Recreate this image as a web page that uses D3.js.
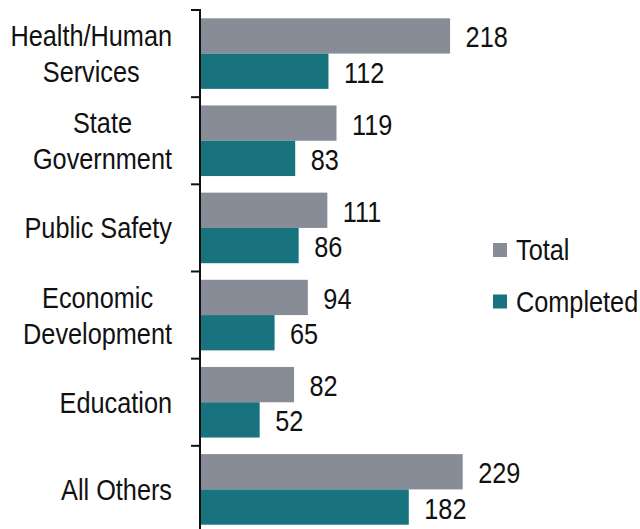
<!DOCTYPE html>
<html><head><meta charset="utf-8">
<script src="https://cdn.jsdelivr.net/npm/d3@7"></script>
<style>body{margin:0;background:#fff}svg{display:block}</style>
</head><body>
<svg id="c" width="640" height="529"></svg>
<script>
const categories = [["Health/Human","Services"],["State","Government"],["Public Safety"],["Economic","Development"],["Education"],["All Others"]];
const totalValues = [218,119,111,94,82,229];
const completedValues = [112,83,86,65,52,182];
const seriesNames = ["Total","Completed"];
const colors = ["#878c96","#18737f"];

const svg = d3.select("#c");
const font = "'Liberation Sans',Arial,sans-serif";
const fs = 29;
const sx = 0.872;
function addText(parent, px, py, str, anchor){
  return parent.append("text").attr("transform",`translate(${px},${py}) scale(${sx},1)`)
    .attr("font-family",font).attr("font-size",fs).attr("fill","#111").attr("dy","0.36em")
    .attr("text-anchor",anchor||"start").text(str);
}
const keys = categories.map(c=>c.join(" "));
const x = d3.scaleLinear().domain([0,229]).range([200,462.7]);
const y0 = d3.scaleBand().domain(keys).range([10,533]).paddingInner(0).paddingOuter(0);
const y1 = d3.scaleBand().domain(seriesNames).range([0,y0.bandwidth()]).paddingInner(0).paddingOuter(0.235);

const data = keys.map((k,i)=>({k, vals:[totalValues[i],completedValues[i]]}));
const g = svg.append("g");
data.forEach(d=>{
  d.vals.forEach((v,j)=>{
    const yy = y0(d.k)+y1(seriesNames[j]);
    g.append("rect").attr("x",x(0)).attr("y",yy).attr("width",x(v)-x(0)).attr("height",y1.bandwidth()).attr("fill",colors[j]);
    addText(g, x(v)+15.5, yy+y1.bandwidth()/2+1, v);
  });
});

// axis
const axG = svg.append("g").attr("transform",`translate(${x(0)},0)`);
keys.forEach(k=>{
  axG.append("line").attr("x1",-9).attr("x2",0).attr("y1",y0(k)).attr("y2",y0(k)).attr("stroke","#111").attr("stroke-width",2);
});
axG.append("line").attr("x1",0).attr("x2",0).attr("y1",y0.range()[0]-1).attr("y2",529).attr("stroke","#111").attr("stroke-width",2);

// category labels
categories.forEach((lines,i)=>{
  const cy = y0(keys[i]) + y0.bandwidth()/2;
  const lg = svg.append("g");
  const ys = lines.map((l,li)=> cy + (li-(lines.length-1)/2)*36);
  const tmp = lines.map(l=>addText(lg,0,0,l,"middle"));
  const w = d3.max(tmp, t=>t.node().getComputedTextLength())*sx;
  tmp.forEach((t,k)=>t.attr("transform",`translate(${172 - w/2},${ys[k]}) scale(${sx},1)`));
});

// legend
seriesNames.forEach((s,i)=>{
  const ly = 250 + i*51.5;
  svg.append("rect").attr("x",493).attr("y",ly-7).attr("width",14).attr("height",14).attr("fill",colors[i]);
  addText(svg, 516, ly, s);
});
</script>
</body></html>
